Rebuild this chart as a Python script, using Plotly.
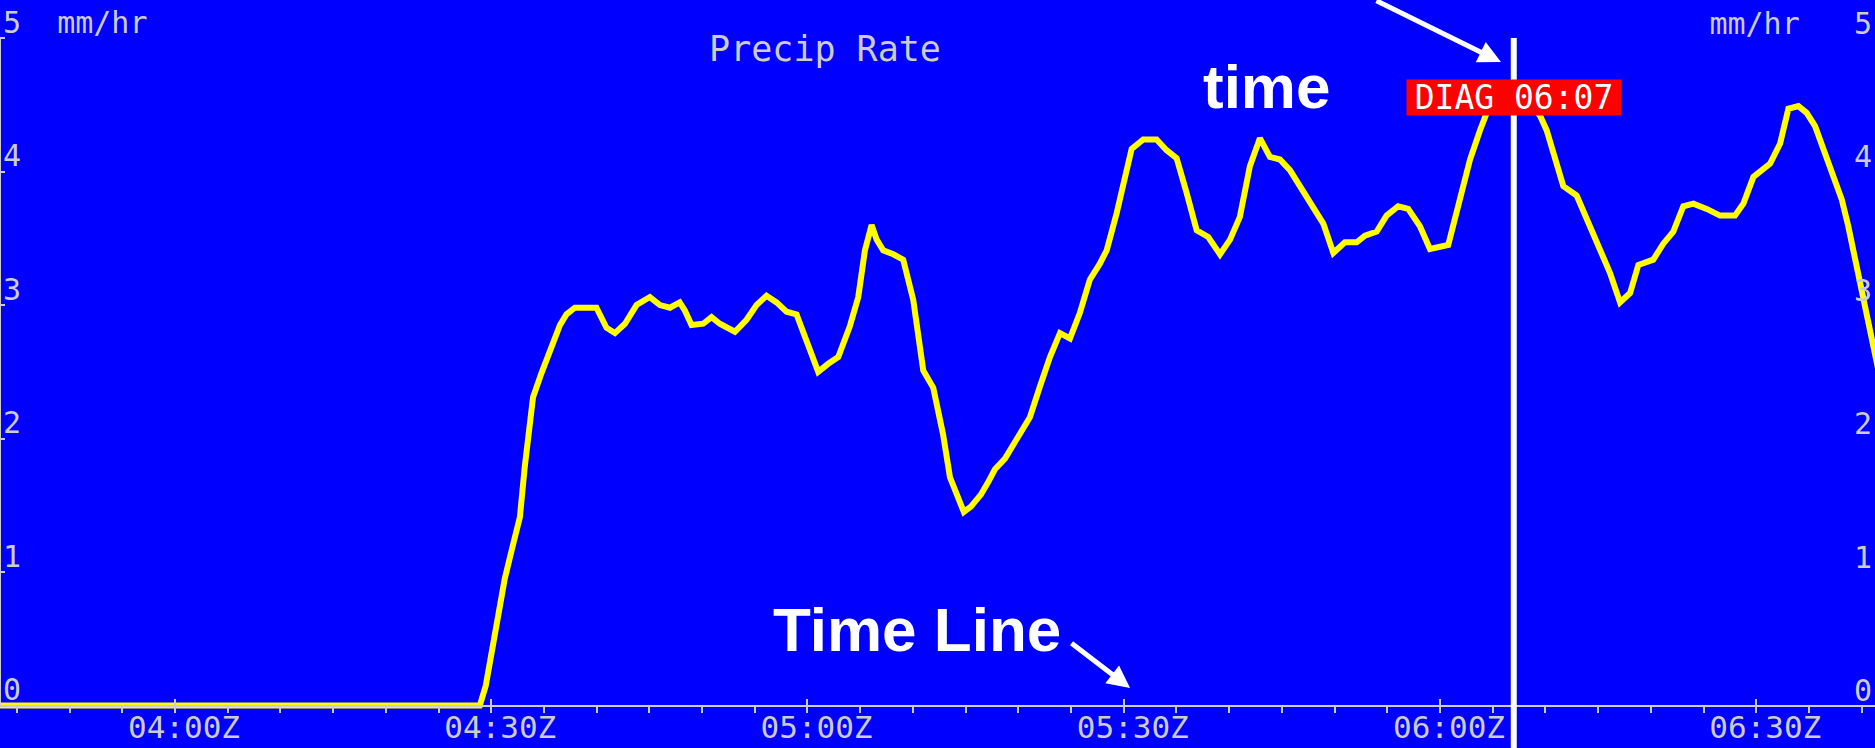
import plotly.graph_objects as go

# ---------------- data ----------------
DATE = "2024-01-01"
TIMES = [
    "03:40:00", "04:28:55", "04:29:29", "04:30:20", "04:31:17", "04:32:03", "04:32:43",
    "04:33:11", "04:33:40", "04:33:58", "04:34:46", "04:35:43", "04:36:31", "04:37:08",
    "04:37:56", "04:39:59", "04:40:28", "04:40:56", "04:41:44", "04:42:41", "04:43:47",
    "04:45:03", "04:46:00", "04:46:57", "04:47:53", "04:48:22", "04:49:00", "04:50:06",
    "04:50:54", "04:51:41", "04:53:07", "04:54:13", "04:55:10", "04:56:07", "04:57:04",
    "04:58:01", "04:58:58", "04:59:55", "05:01:01", "05:01:58", "05:02:55", "05:04:01",
    "05:04:49", "05:05:27", "05:06:05", "05:06:34", "05:07:11", "05:08:08", "05:09:05",
    "05:10:02", "05:10:59", "05:11:56", "05:12:52", "05:13:31", "05:14:10", "05:14:50",
    "05:15:30", "05:16:27", "05:17:07", "05:17:47", "05:18:44", "05:19:35", "05:20:28",
    "05:21:06", "05:22:03", "05:23:00", "05:23:57", "05:24:54", "05:25:50", "05:26:47",
    "05:27:44", "05:28:23", "05:29:20", "05:30:07", "05:30:45", "05:31:51", "05:33:07",
    "05:34:04", "05:35:01", "05:35:58", "05:36:55", "05:38:01", "05:39:08", "05:40:05",
    "05:41:01", "05:41:58", "05:42:55", "05:43:52", "05:44:49", "05:45:46", "05:47:02",
    "05:47:59", "05:48:56", "05:49:53", "05:50:59", "05:52:06", "05:52:53", "05:54:00",
    "05:54:56", "05:56:02", "05:56:59", "05:58:06", "05:59:03", "06:00:47", "06:01:16",
    "06:02:04", "06:02:51", "06:03:48", "06:04:26", "06:05:25", "06:06:38", "06:08:04",
    "06:09:29", "06:10:07", "06:10:55", "06:11:42", "06:12:58", "06:13:55", "06:15:11",
    "06:16:08", "06:17:05", "06:18:02", "06:18:49", "06:20:14", "06:21:11", "06:22:08",
    "06:23:05", "06:24:02", "06:25:18", "06:26:34", "06:27:59", "06:28:47", "06:29:44",
    "06:31:19", "06:32:16", "06:33:03", "06:34:00", "06:34:47", "06:35:35", "06:36:22",
    "06:37:19", "06:38:07", "06:38:44", "06:39:32", "06:40:19", "06:41:07", "06:41:45",
]
RATE = [
    0.00, 0.00, 0.15, 0.55, 0.95, 1.20, 1.41,
    1.79, 2.16, 2.31, 2.49, 2.69, 2.85, 2.93,
    2.98, 2.98, 2.91, 2.83, 2.79, 2.86, 3.00,
    3.06, 3.00, 2.98, 3.02, 2.96, 2.85, 2.86,
    2.91, 2.86, 2.80, 2.89, 3.00, 3.07, 3.02,
    2.95, 2.93, 2.74, 2.50, 2.56, 2.61, 2.84,
    3.06, 3.41, 3.60, 3.49, 3.41, 3.38, 3.34,
    3.04, 2.51, 2.38, 2.03, 1.71, 1.57, 1.45,
    1.49, 1.58, 1.67, 1.77, 1.85, 1.96, 2.09,
    2.16, 2.39, 2.61, 2.79, 2.75, 2.94, 3.19,
    3.31, 3.41, 3.69, 3.96, 4.17, 4.24, 4.24,
    4.16, 4.10, 3.84, 3.56, 3.51, 3.38, 3.49,
    3.66, 4.04, 4.25, 4.11, 4.09, 4.01, 3.85,
    3.72, 3.61, 3.39, 3.47, 3.47, 3.52, 3.55,
    3.67, 3.74, 3.72, 3.59, 3.42, 3.45, 3.59,
    3.86, 4.09, 4.31, 4.44, 4.58, 4.63, 4.55,
    4.42, 4.31, 4.11, 3.89, 3.82, 3.64, 3.41,
    3.24, 3.02, 3.09, 3.30, 3.34, 3.46, 3.55,
    3.74, 3.76, 3.72, 3.67, 3.67, 3.76, 3.96,
    4.06, 4.21, 4.47, 4.49, 4.44, 4.34, 4.16,
    3.96, 3.79, 3.59, 3.29, 2.99, 2.66, 2.45,
]
X_RANGE = ["03:43:24", "06:41:16"]
Y_RANGE = [-0.318, 5.285]
Y_TICKS = [0, 1, 2, 3, 4, 5]
Y_LEFT_TEXT = ["0", "1", "2", "3", "4", "5\u00a0\u00a0mm/hr"]
Y_RIGHT_TEXT = ["0", "1", "2", "3", "4", "mm/hr\u00a0\u00a0\u00a05"]
X_TICK0 = "04:00:00"
TIME_LINE = "06:07:00"
DIAG_LABEL = "DIAG 06:07"
TITLE = "Precip Rate"
NOTE_TOP = "time"
NOTE_BOTTOM = "Time Line"

# ---------------- styling ----------------
BG = "#0000FF"
GRAY = "#CCCCCC"
MONO = "DejaVu Sans Mono"
SANS = "Liberation Sans, Arial, sans-serif"

x_vals = [f"{DATE} {t}" for t in TIMES]
x_range = [f"{DATE} {t}" for t in X_RANGE]
t_line = f"{DATE} {TIME_LINE}"

fig = go.Figure()
fig.add_trace(go.Scatter(
    x=x_vals, y=RATE, mode="lines",
    line=dict(color="#FFFF00", width=6),
    hoverinfo="skip", showlegend=False,
))
# companion trace so the right-hand axis is drawn
fig.add_trace(go.Scatter(
    x=x_vals, y=RATE, mode="lines", yaxis="y2",
    line=dict(color="rgba(0,0,0,0)", width=0),
    hoverinfo="skip", showlegend=False,
))

axis_pos = -Y_RANGE[0] / (Y_RANGE[1] - Y_RANGE[0])

fig.update_layout(
    width=1875, height=748,
    margin=dict(l=0, r=0, t=0, b=0, pad=0),
    paper_bgcolor=BG, plot_bgcolor=BG,
    showlegend=False,
    title=dict(
        text=TITLE, x=0.44, xanchor="center", y=0.9345, yanchor="middle",
        font=dict(family=MONO, size=35, color=GRAY),
    ),
    xaxis=dict(
        type="date", range=x_range, automargin=False,
        anchor="free", position=axis_pos,
        showline=True, linecolor=GRAY, linewidth=2,
        showgrid=False, zeroline=False,
        ticks="inside", ticklen=6, tickwidth=2, tickcolor=GRAY,
        tick0=f"{DATE} {X_TICK0}", dtick=30 * 60 * 1000,
        tickformat="%H:%MZ",
        tickfont=dict(family=MONO, size=31, color=GRAY),
        ticklabelshift=9, ticklabelstandoff=-6,
        minor=dict(
            tick0=f"{DATE} {X_TICK0}", dtick=5 * 60 * 1000,
            ticks="outside", ticklen=6, tickwidth=2, tickcolor=GRAY,
            showgrid=False,
        ),
    ),
    yaxis=dict(
        range=Y_RANGE, tickvals=Y_TICKS, ticktext=Y_LEFT_TEXT, automargin=False,
        showgrid=False, zeroline=False, showline=False,
        ticks="inside", ticklen=5, tickwidth=2, tickcolor=GRAY,
        ticklabelposition="inside top", ticklabeloverflow="allow",
        ticklabelshift=6,
        tickfont=dict(family=MONO, size=30, color=GRAY),
    ),
    yaxis2=dict(
        range=Y_RANGE, tickvals=Y_TICKS, ticktext=Y_RIGHT_TEXT, automargin=False,
        overlaying="y", side="right",
        showgrid=False, zeroline=False, showline=False,
        ticks="",
        ticklabelposition="inside top", ticklabeloverflow="allow",
        ticklabelshift=6,
        tickfont=dict(family=MONO, size=30, color=GRAY),
    ),
    shapes=[
        dict(type="line", xref="paper", yref="y", x0=0, x1=0, y0=0, y1=Y_TICKS[-1],
             line=dict(color=GRAY, width=2)),
        dict(type="line", xref="x", yref="y", x0=t_line, x1=t_line,
             y0=Y_RANGE[0], y1=Y_TICKS[-1], line=dict(color="white", width=6)),
    ],
    annotations=[
        dict(text=DIAG_LABEL, x=t_line, y=4.555, xref="x", yref="y",
             xanchor="center", yanchor="middle", showarrow=False,
             font=dict(family=MONO, size=33, color="white"),
             bgcolor="#FF0000", width=212, height=33, borderpad=1),
        dict(text=f"<b>{NOTE_TOP}</b>", x=0.6755, y=0.8837, xref="paper", yref="paper",
             xanchor="center", yanchor="middle", showarrow=False,
             font=dict(family=SANS, size=62, color="white")),
        dict(text=f"<b>{NOTE_BOTTOM}</b>", x=0.4889, y=0.1578, xref="paper", yref="paper",
             xanchor="center", yanchor="middle", showarrow=False,
             font=dict(family=SANS, size=62, color="white")),
        dict(text="", x=0.8005, y=0.9171, xref="paper", yref="paper",
             ax=-126, ay=-70, showarrow=True, arrowhead=2, arrowsize=0.9,
             arrowwidth=5, arrowcolor="white", standoff=0),
        dict(text="", x=0.6027, y=0.0802, xref="paper", yref="paper",
             ax=-60, ay=-46, showarrow=True, arrowhead=2, arrowsize=0.9,
             arrowwidth=5, arrowcolor="white", standoff=0),
    ],
)

fig.write_html("out.html", config={"displayModeBar": False})
